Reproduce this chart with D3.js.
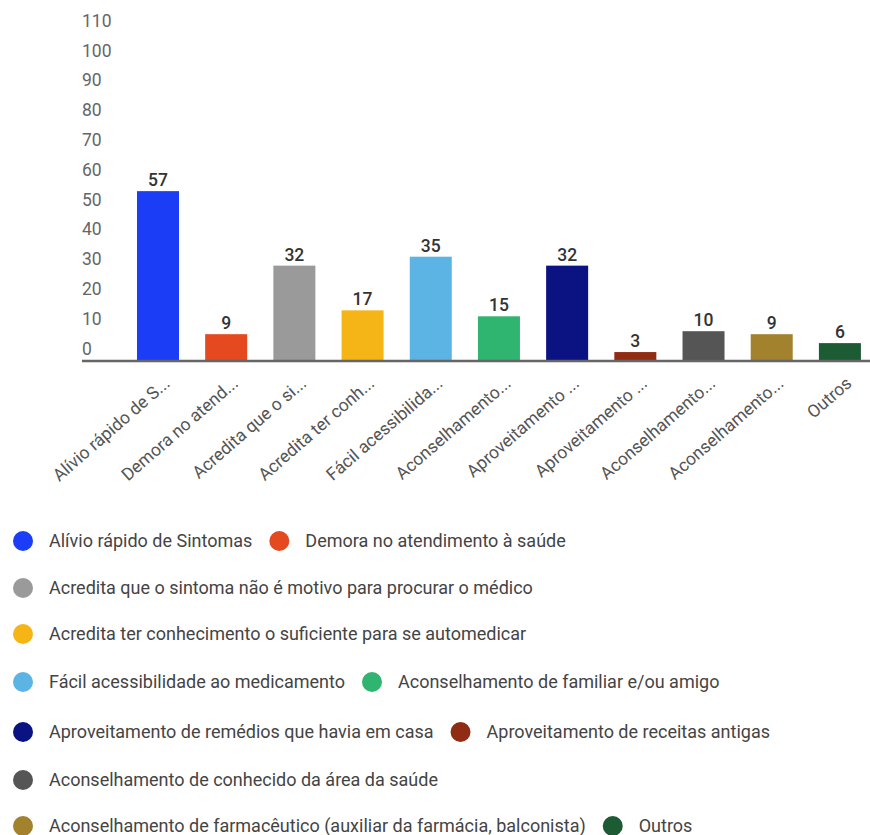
<!DOCTYPE html>
<html>
<head>
<meta charset="utf-8">
<script src="https://cdn.jsdelivr.net/npm/d3@7"></script>
<style>
  html, body { margin: 0; padding: 0; background: #fff; }
  svg { display: block; font-family: Roboto, "Noto Sans", Arial, sans-serif; }
</style>
</head>
<body>
<svg id="chart" width="870" height="835"></svg>
<script>
// Motivos para automedicação — número de respostas por motivo
const categories = [
  "Alívio rápido de Sintomas",
  "Demora no atendimento à saúde",
  "Acredita que o sintoma não é motivo para procurar o médico",
  "Acredita ter conhecimento o suficiente para se automedicar",
  "Fácil acessibilidade ao medicamento",
  "Aconselhamento de familiar e/ou amigo",
  "Aproveitamento de remédios que havia em casa",
  "Aproveitamento de receitas antigas",
  "Aconselhamento de conhecido da área da saúde",
  "Aconselhamento de farmacêutico (auxiliar da farmácia, balconista)",
  "Outros"
];
const axisLabels = [
  "Alívio rápido de S...",
  "Demora no atend...",
  "Acredita que o si...",
  "Acredita ter conh...",
  "Fácil acessibilida...",
  "Aconselhamento...",
  "Aproveitamento ...",
  "Aproveitamento ...",
  "Aconselhamento...",
  "Aconselhamento...",
  "Outros"
];
const values = [57, 9, 32, 17, 35, 15, 32, 3, 10, 9, 6];
const colors = [
  "#1a3df5", "#e4491f", "#9a9a9a", "#f6b517", "#5bb4e4", "#2fb56f",
  "#0b1282", "#902c14", "#555555", "#a3822d", "#1d5b35"
];
const yTicks = [0, 10, 20, 30, 40, 50, 60, 70, 80, 90, 100, 110];

// Legend rows: indices of categories shown on each line
const legendRows = [[0, 1], [2], [3], [4, 5], [6, 7], [8], [9, 10]];

const svg = d3.select("#chart");
const baseY = 361;

const y = d3.scaleLinear().domain([0, 110]).range([baseY, baseY - 327.8]);
const x = d3.scaleBand()
  .domain(d3.range(categories.length))
  .range([123.9, 874])
  .paddingInner(0.384)
  .paddingOuter(0.192);

// y tick labels (sitting slightly above their value)
svg.append("g").selectAll("text")
  .data(yTicks)
  .join("text")
  .attr("x", 82)
  .attr("y", d => y(d) - 12.5)
  .attr("dy", "0.35em")
  .attr("font-size", 17.5)
  .attr("fill", "#666")
  .text(d => d);

// bars
svg.append("g").selectAll("rect")
  .data(values)
  .join("rect")
  .attr("x", (d, i) => x(i))
  .attr("width", x.bandwidth())
  .attr("y", d => y(d))
  .attr("height", d => baseY - y(d))
  .attr("fill", (d, i) => colors[i]);

// value labels
svg.append("g").selectAll("text")
  .data(values)
  .join("text")
  .attr("x", (d, i) => x(i) + x.bandwidth() / 2)
  .attr("y", d => y(d) - 5)
  .attr("text-anchor", "middle")
  .attr("font-size", 17.5)
  .attr("font-weight", 500)
  .attr("fill", "#333")
  .text(d => d);

// baseline
svg.append("line")
  .attr("x1", 82).attr("x2", 870)
  .attr("y1", baseY).attr("y2", baseY)
  .attr("stroke", "#666").attr("stroke-width", 2.5);

// rotated category labels
svg.append("g").selectAll("text")
  .data(axisLabels)
  .join("text")
  .attr("text-anchor", "end")
  .attr("font-size", 17.5)
  .attr("fill", "#555")
  .attr("transform", (d, i) => {
    const cx = x(i) + x.bandwidth() / 2 + 13;
    const cy = baseY + 24;
    return `translate(${cx},${cy}) rotate(-41)`;
  })
  .text(d => d);

// legend
const rowY = [541, 588, 634, 682, 732, 780, 826];
legendRows.forEach((row, r) => {
  let cursor = 23;
  row.forEach(idx => {
    const g = svg.append("g");
    g.append("circle")
      .attr("cx", cursor).attr("cy", rowY[r]).attr("r", 10)
      .attr("fill", colors[idx]);
    const t = g.append("text")
      .attr("x", cursor + 26).attr("y", rowY[r])
      .attr("dy", "0.35em")
      .attr("font-size", 18)
      .attr("fill", "#444")
      .text(categories[idx]);
    cursor = cursor + 26 + t.node().getComputedTextLength() + 27;
  });
});
</script>
</body>
</html>
